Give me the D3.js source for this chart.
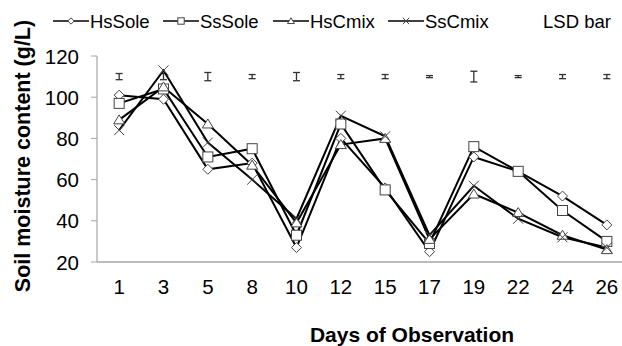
<!DOCTYPE html>
<meta charset="utf-8">
<head>
    <script src="https://d3js.org/d3.v7.min.js"></script>
    <style>
        body { margin: 0; background: #fff; }
        text { font-family: "Liberation Sans", Arial, sans-serif; fill: #000; }
    </style>
</head>
<body>
<div id="chartContainer"></div>
<script type="text/javascript">

    var days = ["1", "3", "5", "8", "10", "12", "15", "17", "19", "22", "24", "26"];
    var hsSole = [101, 99, 65, 68, 27, 80, 56, 25, 71, 64, 52, 38];
    var ssSole = [97, 104, 71, 75, 33, 87, 55, 29, 76, 64, 45, 30];
    var hsCmix = [89, 105, 87, 67, 39, 77, 80, 31, 53, 44, 33, 26];
    var ssCmix = [84, 113, 78, 60, 41, 91, 81, 33, 57, 41, 32, 27];
    var lsdMean = [110, 110, 110, 110, 110, 110, 110, 110, 110, 110, 110, 110];
    var lsdHalf = [1.5, 1.5, 2, 1, 2, 1, 1, 0.5, 2.6, 0.5, 1, 1];
    var yTicks = [20, 40, 60, 80, 100, 120];

    var series = [
        {name: "HsSole", values: hsSole, marker: "diamond"},
        {name: "SsSole", values: ssSole, marker: "square"},
        {name: "HsCmix", values: hsCmix, marker: "triangle"},
        {name: "SsCmix", values: ssCmix, marker: "cross"}
    ];

    var width = 622, height = 346;
    var svg = d3.select("#chartContainer").append("svg")
        .attr("width", width).attr("height", height);

    var x = d3.scaleBand().domain(days).range([97, 629]);
    var y = d3.scaleLinear().domain([20, 120]).range([262, 56]);
    var cx = function (d) { return x(d) + x.bandwidth() / 2; };

    // axes
    svg.append("line").attr("x1", 97).attr("x2", 97).attr("y1", 56).attr("y2", 262)
        .attr("stroke", "#a6a6a6").attr("stroke-width", 1.2);
    svg.append("line").attr("x1", 97).attr("x2", width).attr("y1", 262).attr("y2", 262)
        .attr("stroke", "#a6a6a6").attr("stroke-width", 1.5);
    yTicks.forEach(function (t) {
        svg.append("line").attr("x1", 91).attr("x2", 97).attr("y1", y(t)).attr("y2", y(t))
            .attr("stroke", "#a6a6a6");
        svg.append("text").attr("x", 79).attr("y", y(t) + 7.5)
            .attr("text-anchor", "end").style("font-size", "20.5px").text(t);
    });
    days.forEach(function (d) {
        svg.append("text").attr("x", cx(d)).attr("y", 294)
            .attr("text-anchor", "middle").style("font-size", "20.5px").text(d);
    });

    svg.append("text").attr("x", 412).attr("y", 342).attr("text-anchor", "middle")
        .style("font-size", "21px").style("font-weight", "bold").text("Days of Observation");
    svg.append("text").attr("transform", "translate(30,156) rotate(-90)")
        .attr("text-anchor", "middle").style("font-size", "21.5px").style("font-weight", "bold")
        .text("Soil moisture content (g/L)");

    // LSD bars
    days.forEach(function (d, i) {
        var top = y(lsdMean[i] + lsdHalf[i]), bot = y(lsdMean[i] - lsdHalf[i]), c = cx(d);
        var g = svg.append("g").attr("stroke", "#333").attr("stroke-width", 1.3);
        g.append("line").attr("x1", c).attr("x2", c).attr("y1", top).attr("y2", bot);
        g.append("line").attr("x1", c - 3.5).attr("x2", c + 3.5).attr("y1", top).attr("y2", top);
        g.append("line").attr("x1", c - 3.5).attr("x2", c + 3.5).attr("y1", bot).attr("y2", bot);
    });

    function drawMarker(g, type, px, py, s) {
        var m;
        if (type === "diamond") {
            m = g.append("path").attr("d", "M" + px + "," + (py - s) + "L" + (px + s) + "," + py +
                "L" + px + "," + (py + s) + "L" + (px - s) + "," + py + "Z");
        } else if (type === "square") {
            m = g.append("rect").attr("x", px - s).attr("y", py - s).attr("width", 2 * s).attr("height", 2 * s);
        } else if (type === "triangle") {
            m = g.append("path").attr("d", "M" + px + "," + (py - s) + "L" + (px + s * 1.1) + "," + (py + s * 0.8) +
                "L" + (px - s * 1.1) + "," + (py + s * 0.8) + "Z");
        } else {
            m = g.append("path").attr("d", "M" + (px - s) + "," + (py - s) + "L" + (px + s) + "," + (py + s) +
                "M" + (px - s) + "," + (py + s) + "L" + (px + s) + "," + (py - s));
        }
        m.attr("fill", type === "cross" ? "none" : "#fff").attr("stroke", "#444").attr("stroke-width", 1);
    }

    var line = d3.line().x(function (d) { return cx(d.day); }).y(function (d) { return y(d.v); });

    series.forEach(function (s) {
        var pts = days.map(function (d, i) { return {day: d, v: s.values[i]}; });
        svg.append("path").datum(pts).attr("d", line)
            .attr("fill", "none").attr("stroke", "#000").attr("stroke-width", 2);
    });
    series.forEach(function (s) {
        var g = svg.append("g");
        days.forEach(function (d, i) {
            drawMarker(g, s.marker, cx(d), y(s.values[i]), 5);
        });
    });

    // legend
    var legX = [53, 163, 273, 388];
    series.forEach(function (s, i) {
        var g = svg.append("g");
        g.append("line").attr("x1", legX[i]).attr("x2", legX[i] + 36).attr("y1", 21).attr("y2", 21)
            .attr("stroke", "#000").attr("stroke-width", 1.5);
        drawMarker(g, s.marker, legX[i] + 18, 21, 3.2);
        g.append("text").attr("x", legX[i] + 37).attr("y", 27.5).style("font-size", "18.5px").text(s.name);
    });
    svg.append("text").attr("x", 543).attr("y", 27.5).style("font-size", "18.5px").text("LSD bar");

</script>
</body>
</html>
